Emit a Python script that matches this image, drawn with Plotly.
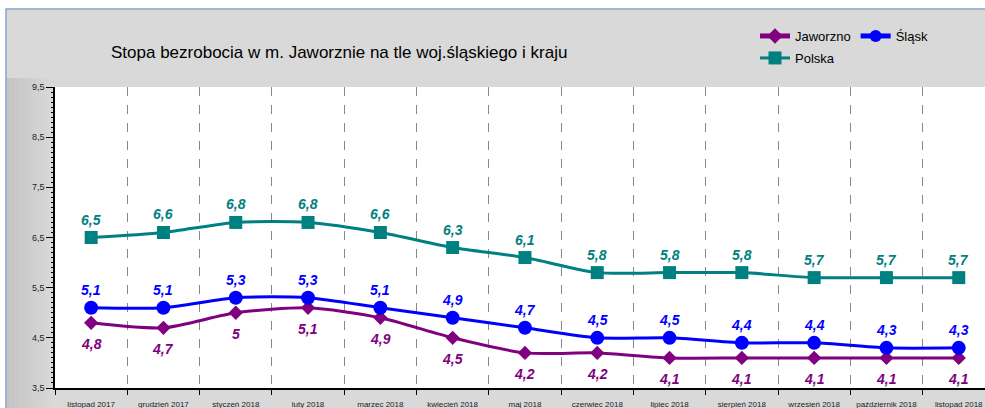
import plotly.graph_objects as go

months = ["listopad 2017", "grudzień 2017", "styczeń 2018", "luty 2018", "marzec 2018",
          "kwiecień 2018", "maj 2018", "czerwiec 2018", "lipiec 2018", "sierpień 2018",
          "wrzesień 2018", "październik 2018", "listopad 2018"]
jaworzno = [4.8, 4.7, 5.0, 5.1, 4.9, 4.5, 4.2, 4.2, 4.1, 4.1, 4.1, 4.1, 4.1]
slask = [5.1, 5.1, 5.3, 5.3, 5.1, 4.9, 4.7, 4.5, 4.5, 4.4, 4.4, 4.3, 4.3]
polska = [6.5, 6.6, 6.8, 6.8, 6.6, 6.3, 6.1, 5.8, 5.8, 5.8, 5.7, 5.7, 5.7]
y_ticks = [3.5, 4.5, 5.5, 6.5, 7.5, 8.5, 9.5]

title_text = "Stopa bezrobocia w m. Jaworznie na tle woj.śląskiego i kraju"

W, H = 985, 408
L, R, T, B = 55, 0, 87, 20
PW = W - L - R
PH = H - T - B


def px_x(p):
    return (p - L) / PW


def px_y(p):
    return (H - B - p) / PH


def fmt(v):
    return ("%g" % v).replace(".", ",")


FONT = "Arial, Liberation Sans, sans-serif"

fig = go.Figure()

series = [
    ("Jaworzno", jaworzno, "#800080", "diamond", 11, -21, "legend"),
    ("Śląsk", slask, "#0000ff", "circle", 14, 18, "legend"),
    ("Polska", polska, "#008080", "square", 13, 18, "legend2"),
]
for name, vals, col, sym, ms, shift, lg in series:
    fig.add_trace(go.Scatter(
        x=months, y=vals, name=name, mode="lines+markers",
        line=dict(color=col, width=3, shape="spline", smoothing=0.7),
        marker=dict(color=col, symbol=sym, size=ms),
        legend=lg, cliponaxis=False,
    ))
    for m, v in zip(months, vals):
        fig.add_annotation(
            x=m, y=v, xref="x", yref="y", text=fmt(v), showarrow=False,
            yshift=shift, yanchor="middle", xanchor="center",
            font=dict(family=FONT, size=14, color=col, weight="bold", style="italic"),
        )

fig.update_layout(
    width=W, height=H,
    margin=dict(l=L, r=R, t=T, b=B, pad=0),
    paper_bgcolor="#d9d9d9",
    plot_bgcolor="#ffffff",
    font=dict(family=FONT, color="#000000"),
    separators=", ",
    title=dict(text=title_text, x=px_x(111), xref="paper", xanchor="left",
               y=1 - 52 / H, yanchor="middle",
               font=dict(family=FONT, size=17, color="#000000")),
    showlegend=True,
    legend=dict(orientation="h", x=px_x(755), xanchor="left", y=px_y(36), yanchor="middle",
                bgcolor="rgba(0,0,0,0)", font=dict(family=FONT, size=13, color="#000000"),
                traceorder="normal", itemsizing="constant"),
    legend2=dict(orientation="h", x=px_x(755), xanchor="left", y=px_y(58), yanchor="middle",
                 bgcolor="rgba(0,0,0,0)", font=dict(family=FONT, size=13, color="#000000")),
    xaxis=dict(
        type="category", range=[-0.5, -0.5 + PW / 72.3],
        tickson="boundaries", ticks="outside", ticklen=5, tickcolor="#000000",
        showline=True, linecolor="#000000", linewidth=1.5,
        showgrid=True, gridcolor="#888888", griddash="dash", gridwidth=1,
        tickfont=dict(family=FONT, size=8, color="#222222"), tickangle=0,
        ticklabelstandoff=8,
        fixedrange=True,
    ),
    yaxis=dict(
        range=[3.5, 9.5], tickvals=y_ticks, tickformat=".1f",
        ticks="outside", ticklen=7, tickcolor="#000000",
        showline=True, linecolor="#000000", linewidth=1.5,
        showgrid=False, zeroline=False,
        tickfont=dict(family=FONT, size=9, color="#222222"),
        minor=dict(dtick=0.1, ticks="outside", ticklen=2, tickcolor="#000000", showgrid=False),
    ),
)

# left-margin shading gradient (approximated with strips)
n_strips = 11
x_start, x_end = 6.5, 54
for i in range(n_strips):
    a = x_start + (x_end - x_start) * i / n_strips
    b = x_start + (x_end - x_start) * (i + 1) / n_strips
    g = int(round(0xc3 + (0xd9 - 0xc3) * (i + 0.5) / n_strips))
    fig.add_shape(type="rect", xref="paper", yref="paper",
                  x0=px_x(a), x1=px_x(b), y0=px_y(H + 2), y1=px_y(78),
                  fillcolor="rgb(%d,%d,%d)" % (g, g, g), line=dict(width=0), layer="below")

# outer frame: white margin strip at top/left with a light blue border
fig.add_shape(type="rect", xref="paper", yref="paper",
              x0=px_x(-2), x1=px_x(W + 2), y0=px_y(8.5), y1=px_y(-2),
              fillcolor="#ffffff", line=dict(width=0), layer="above")
fig.add_shape(type="rect", xref="paper", yref="paper",
              x0=px_x(-2), x1=px_x(5.5), y0=px_y(H + 2), y1=px_y(-2),
              fillcolor="#ffffff", line=dict(width=0), layer="above")
fig.add_shape(type="line", xref="paper", yref="paper",
              x0=px_x(5.5), x1=px_x(W + 2), y0=px_y(9), y1=px_y(9),
              line=dict(color="#8aa6cc", width=1.5), layer="above")
fig.add_shape(type="line", xref="paper", yref="paper",
              x0=px_x(6), x1=px_x(6), y0=px_y(9), y1=px_y(H + 2),
              line=dict(color="#8aa6cc", width=1.5), layer="above")

fig.write_html(
    "out.html",
    config={"displayModeBar": False},
    post_script="document.body.style.margin='0';document.body.style.padding='0';"
                "document.body.style.overflow='hidden';"
                "document.documentElement.style.overflow='hidden';",
)
